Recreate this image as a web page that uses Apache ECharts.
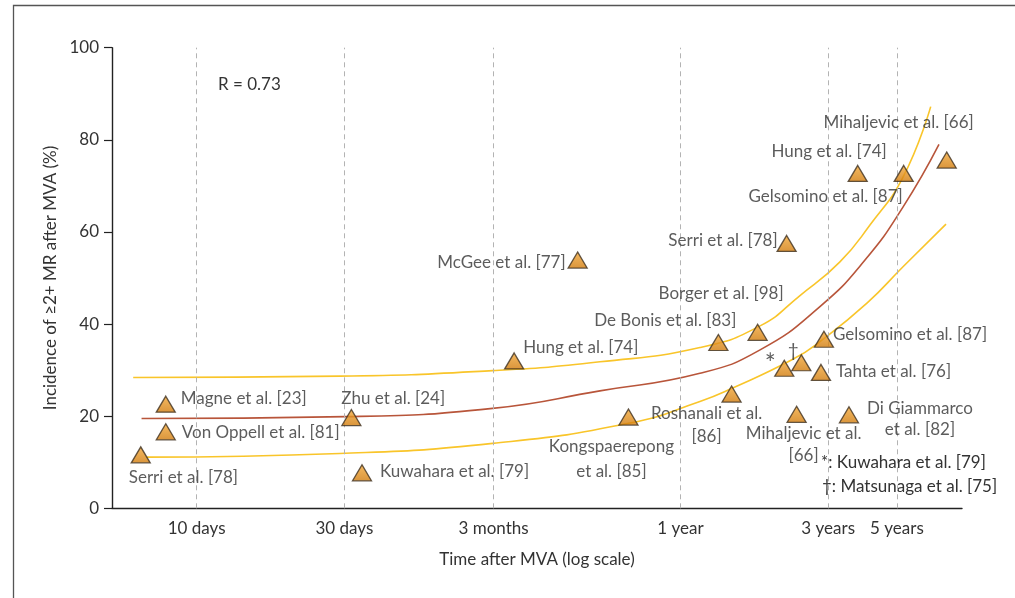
<!DOCTYPE html>
<html>
<head>
<meta charset="utf-8">
<script src="https://cdn.jsdelivr.net/npm/echarts@6/dist/echarts.min.js"></script>
<style>
  html, body { margin: 0; padding: 0; background: #fff; }
  #chart { width: 1015px; height: 598px; }
</style>
</head>
<body>
<div id="chart"></div>
<script>
// Time axis ticks (days after MVA, log scale)
const tickDays = [10, 30, 91, 365, 1095, 1826];
const tickLabels = ['10 days', '30 days', '3 months', '1 year', '3 years', '5 years'];

// Studies: time of follow-up (days) and incidence of >=2+ MR (%)
const studyLabels = [
  'Serri et al. [78]', 'Magne et al. [23]', 'Von Oppell et al. [81]', 'Zhu et al. [24]',
  'Kuwahara et al. [79]', 'Hung et al. [74]', 'McGee et al. [77]', 'Kongspaerepong\net al. [85]',
  'Roshanali et al.\n[86]', 'De Bonis et al. [83]', 'Borger et al. [98]', 'Serri et al. [78]',
  '*', '\u2020', 'Tahta et al. [76]', 'Gelsomino et al. [87]',
  'Mihaljevic et al.\n[66]', 'Di Giammarco\net al. [82]', 'Hung et al. [74]', 'Gelsomino et al. [87]',
  'Mihaljevic et al. [66]'
];
const studyDays = [
  6.6, 7.95, 7.95, 31.6,
  34.2, 106, 170, 248,
  534, 484, 648, 804,
  790, 897, 1038, 1061,
  866, 1278, 1364, 1920,
  2644
];
const studyIncidence = [
  11.6, 22.6, 16.6, 19.7,
  7.7, 32.0, 53.9, 19.8,
  24.8, 36.0, 38.2, 57.5,
  30.4, 31.6, 29.5, 36.7,
  20.4, 20.3, 72.7, 72.7,
  75.6
];

// Regression curve and its band, sampled along each line
const fitDays = [6.64, 30.3, 90.3, 200.6, 422, 660, 1030, 1440, 1914, 2496];
const fitValues = [19.5, 19.9, 21.7, 25.5, 29.3, 34.4, 43.8, 53.9, 65.5, 79.0];
const upperDays = [6.24, 29.0, 90.3, 200.6, 422, 660, 888, 1195, 1494, 1914, 2347];
const upperValues = [28.4, 28.7, 29.9, 31.8, 34.9, 39.6, 46.2, 53.5, 61.5, 72.0, 87.2];
const lowerDays = [6.89, 29.0, 90.3, 250.7, 422, 534, 845, 1030, 1464, 1914, 2630];
const lowerValues = [11.1, 11.9, 14.1, 18.5, 23.2, 26.0, 32.4, 36.2, 44.6, 52.5, 61.7];

const annotation = 'R = 0.73';
const footnotes = ['*: Kuwahara et al. [79]', '\u2020: Matsunaga et al. [75]'];

// Label placement per study: [align, dx, dy, lineHeight, fontSize]
const labelPlacement = [
  ['left', -12, 23, 20], ['left', 15, -6, 20], ['left', 16, 1, 20], ['left', -10, -19, 20],
  ['left', 18, -1, 20], ['left', 9, -13, 20], ['right', -12, 2, 20], ['center', -17, 42, 25],
  ['center', -25, 31, 23], ['right', 18, -22, 20], ['right', 26, -39, 20], ['right', -9, -3, 20],
  ['center', -14, -4, 20, 26], ['center', -8, -12, 20, 19], ['left', 15, -1, 20], ['left', 9, -5, 20],
  ['center', 7, 30, 22], ['center', 71, 4, 21], ['right', 29, -22, 20], ['right', -1, 23, 20],
  ['right', 27, -38, 20]
];

const FONT = 'Lato';
const FS = 17;
const TXT = '#333333';

const chart = echarts.init(document.getElementById('chart'), null, { renderer: 'canvas' });

const pair = (xs, ys) => xs.map((x, i) => [x, ys[i]]);

const studyPoints = studyDays.map((d, i) => {
  const p = labelPlacement[i];
  return {
    value: [d, studyIncidence[i]],
    label: {
      show: true,
      formatter: studyLabels[i],
      position: 'inside',
      align: p[0],
      verticalAlign: 'middle',
      offset: [p[1], p[2]],
      lineHeight: p[3],
      color: TXT,
      fontFamily: FONT,
      fontSize: p[4] || FS
    }
  };
});

const curveStyle = (color) => ({
  type: 'line',
  smooth: 0.5,
  showSymbol: false,
  symbol: 'none',
  silent: true,
  z: 2,
  lineStyle: { color: color, width: 1.6 }
});

const option = {
  backgroundColor: '#ffffff',
  animation: false,
  textStyle: { fontFamily: FONT, color: TXT },
  grid: { left: 112, top: 47.7, width: 850, height: 460.6 },
  xAxis: {
    type: 'log',
    logBase: 10,
    min: 5.33,
    max: 2962,
    name: 'Time after MVA (log scale)',
    nameLocation: 'middle',
    nameGap: 43,
    nameTextStyle: { fontFamily: FONT, fontSize: FS, color: TXT },
    axisLine: { show: true, lineStyle: { color: '#222', width: 1.4 } },
    axisTick: { show: false },
    splitLine: { show: false },
    minorTick: { show: false },
    minorSplitLine: { show: false },
    axisLabel: {
      customValues: tickDays,
      margin: 12,
      color: TXT,
      fontFamily: FONT,
      fontSize: FS,
      formatter: (v) => {
        let best = 0;
        tickDays.forEach((t, i) => {
          if (Math.abs(Math.log(t) - Math.log(v)) < Math.abs(Math.log(tickDays[best]) - Math.log(v))) best = i;
        });
        return tickLabels[best];
      }
    }
  },
  yAxis: {
    type: 'value',
    min: 0,
    max: 100,
    interval: 20,
    name: 'Incidence of \u22652+ MR after MVA (%)',
    nameLocation: 'middle',
    nameGap: 50,
    nameRotate: 90,
    nameTextStyle: { fontFamily: FONT, fontSize: FS, color: TXT },
    axisLine: { show: true, lineStyle: { color: '#222', width: 1.4 } },
    axisTick: { show: true, inside: false, length: 8, lineStyle: { color: '#222', width: 1.2 } },
    splitLine: { show: false },
    axisLabel: { margin: 13, color: TXT, fontFamily: FONT, fontSize: FS }
  },
  series: [
    {
      type: 'scatter',
      data: [],
      silent: true,
      markLine: {
        silent: true,
        symbol: 'none',
        label: { show: false },
        lineStyle: { type: [5, 4], color: '#b3b3b3', width: 1 },
        data: tickDays.map((d) => ({ xAxis: d }))
      }
    },
    Object.assign(curveStyle('#f9c52a'), { data: pair(upperDays, upperValues) }),
    Object.assign(curveStyle('#f9c52a'), { data: pair(lowerDays, lowerValues) }),
    Object.assign(curveStyle('#b8553a'), { data: pair(fitDays, fitValues) }),
    {
      type: 'scatter',
      symbol: 'triangle',
      symbolSize: [19, 16],
      z: 5,
      itemStyle: {
        color: new echarts.graphic.LinearGradient(0, 0, 0, 1, [
          { offset: 0, color: '#f3a93a' },
          { offset: 1, color: '#d07a0a' }
        ]),
        borderColor: '#3f3120',
        borderWidth: 1.3
      },
      data: studyPoints
    }
  ],
  graphic: [
    {
      type: 'rect',
      shape: { x: 13.5, y: 5.5, width: 1100, height: 700 },
      style: { fill: 'none', stroke: '#555', lineWidth: 1.3 },
      silent: true
    },
    {
      type: 'text',
      left: 218,
      top: 76,
      style: { text: annotation, font: FS + 'px ' + FONT, fill: TXT }
    },
    {
      type: 'text',
      left: 821,
      top: 454,
      style: { text: footnotes[0], font: FS + 'px ' + FONT, fill: TXT }
    },
    {
      type: 'text',
      left: 822,
      top: 478,
      style: { text: footnotes[1], font: FS + 'px ' + FONT, fill: TXT }
    }
  ]
};

chart.setOption(option);
</script>
</body>
</html>
